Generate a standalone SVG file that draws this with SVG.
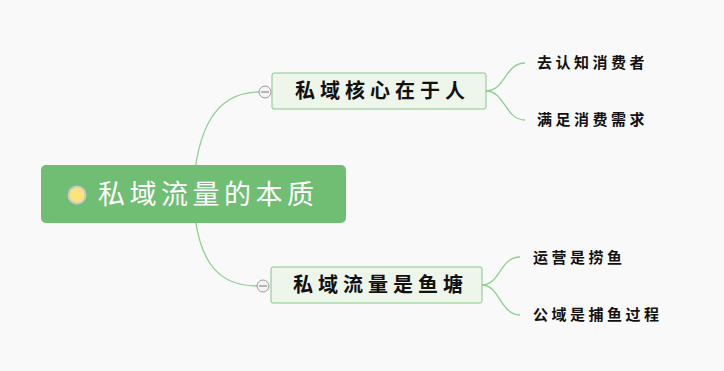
<svg xmlns="http://www.w3.org/2000/svg" width="724" height="371" viewBox="0 0 724 371">
<style>
.cn{font-family:"Noto Sans CJK SC","Noto Sans",sans-serif;}
.root{font-size:27px;fill:#ffffff;letter-spacing:4.5px;}
.sub{font-size:20px;fill:#111;font-weight:bold;letter-spacing:5px;}
.leaf{font-size:15px;fill:#111;font-weight:bold;letter-spacing:3.5px;}
.conn{fill:none;stroke:#8fcf8f;stroke-width:1.3;}
.subbox{fill:#eef5ea;stroke:#86c888;stroke-width:1;}
.tog{fill:#f4f4f4;stroke:#999;stroke-width:1;}
</style>
<rect x="0" y="0" width="724" height="371" fill="#f9f9f9"/>
<g id="connectors">
<path class="conn" d="M193 194 C196 130 215 92 259 92"/>
<path class="conn" d="M193 194 C196 258 215 286 257 286"/>
<path class="conn" d="M486 91 C505 91 505 63 525 63"/>
<path class="conn" d="M486 91 C505 91 505 120 525 120"/>
<path class="conn" d="M482 285 C500 285 500 257 520 257"/>
<path class="conn" d="M482 285 C500 285 500 315 520 315"/>
</g>
<g id="root">
<rect x="41" y="165" width="305" height="58" rx="5" fill="#6fbe73"/>
<circle cx="77" cy="195" r="8.5" fill="#fde37a" stroke="#c9c9c9" stroke-width="2"/>
<text class="cn root" x="98" y="204">私域流量的本质</text>
</g>
<g id="sub1">
<rect class="subbox" x="272" y="73" width="214" height="36" rx="2"/>
<circle class="tog" cx="265" cy="92" r="6"/>
<line x1="261" y1="92" x2="269" y2="92" stroke="#777" stroke-width="1"/>
<text class="cn sub" x="295" y="98">私域核心在于人</text>
</g>
<g id="sub2">
<rect class="subbox" x="271" y="267" width="211" height="36" rx="2"/>
<circle class="tog" cx="263" cy="286" r="6"/>
<line x1="259" y1="286" x2="267" y2="286" stroke="#777" stroke-width="1"/>
<text class="cn sub" x="293" y="292">私域流量是鱼塘</text>
</g>
<g id="leaf1"><text class="cn leaf" x="537" y="68">去认知消费者</text></g>
<g id="leaf2"><text class="cn leaf" x="537" y="125">满足消费需求</text></g>
<g id="leaf3"><text class="cn leaf" x="533" y="263">运营是捞鱼</text></g>
<g id="leaf4"><text class="cn leaf" x="533" y="320">公域是捕鱼过程</text></g>
</svg>
